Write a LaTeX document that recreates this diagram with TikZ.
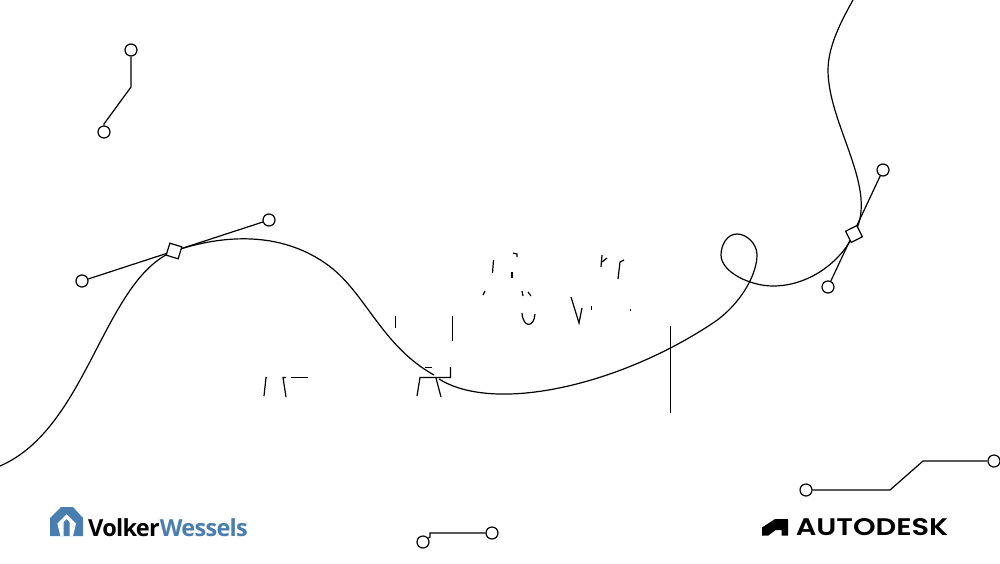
\documentclass[tikz,border=0pt]{standalone}
\usepackage{fontspec}
\setsansfont{Open Sans}
\newfontfamily\autofont{Poppins SemiBold}
\definecolor{vwblue}{HTML}{4A7DB0}
\begin{document}
\begin{tikzpicture}[
    x = 1pt,
    y = -1pt,
    line width = 1.2pt,
    handle/.style = {draw,
      circle,
      fill = white,
      inner sep = 0pt,
      minimum size = 12pt},
    anchorbox/.style = {draw,
      fill = white,
      inner sep = 0pt,
      minimum size = 12.5pt},
    fragment/.style = {line width = 1.2pt},
    ]

    \useasboundingbox (0, 0) rectangle (1000, 563);

    \coordinate (curve_start) at (0, 466);
    \coordinate (curve_end) at (853, 0);

    \node at (131, 50) [handle, name = h_top_a] {};
    \node at (104, 132) [handle, name = h_top_b] {};
    \draw (h_top_a) -- (131, 87) -- (104, 124) -- (h_top_b);

    \node at (423, 542) [handle, name = h_bot_a] {};
    \node at (492, 533) [handle, name = h_bot_b] {};
    \draw (h_bot_a) -- (430, 537) -- (430, 533) -- (h_bot_b);

    \node at (806, 490) [handle, name = h_right_a] {};
    \node at (994, 461) [handle, name = h_right_b] {};
    \draw (h_right_a) -- (890, 490) -- (923, 461) -- (h_right_b);

    \node at (82, 281) [handle, name = h_left_a] {};
    \node at (269, 220) [handle, name = h_left_b] {};
    \draw (h_left_a) -- (h_left_b);

    \node at (828, 287) [handle, name = h_loop_a] {};
    \node at (883, 170) [handle, name = h_loop_b] {};
    \draw (h_loop_a) -- (h_loop_b);

    \draw (curve_start) .. controls (88, 428) and (103, 280) .. (174, 251)
    .. controls (225, 234) and (280, 232) .. (325, 263)
    .. controls (365, 290) and (380, 345) .. (434, 375);
    \draw (439, 379) .. controls (495, 414) and (620, 385) .. (713, 323)
    .. controls (740, 305) and (757, 275) .. (757, 255)
    .. controls (757, 243) and (746, 234) .. (737, 234)
    .. controls (727, 234) and (721, 245) .. (721, 255)
    .. controls (721, 272) and (750, 286) .. (773, 286)
    .. controls (808, 286) and (840, 263) .. (854, 234)
    .. controls (880, 190) and (828, 125) .. (828, 70)
    .. controls (828, 45) and (843, 18) .. (curve_end);

    \node at (174, 251) [anchorbox, rotate = -17, name = a_left] {};
    \node at (854, 234) [anchorbox, rotate = 27, name = a_loop] {};

    \draw [fragment] (493.5, 260) -- (492.5, 273);
    \draw [fragment] (513, 253) -- (517, 254) -- (517, 257);
    \draw [fragment] (512, 272) -- (512, 278);
    \draw [fragment] (485, 291) -- (483, 295);
    \draw [fragment] (522, 291) -- (523, 296);
    \draw [fragment] (528, 292) -- (531, 296);
    \draw [fragment] (522, 313) .. controls (523, 328) and (534, 328) .. (535, 314);
    \draw [fragment] (571, 297) -- (579, 323) -- (582, 308);
    \draw [fragment] (591.5, 306) -- (591.5, 310);
    \draw [fragment] (630.5, 309) -- (630.5, 311);
    \draw [fragment] (602, 255) -- (601, 267);
    \draw [fragment] (602, 262) -- (607, 258);
    \draw [fragment] (624, 260) -- (620, 262) -- (618, 279);
    \draw [fragment] (267, 377.5) -- (266, 377.5) -- (264, 396);
    \draw [fragment] (286, 377.5) -- (283, 377.5) -- (286, 397);
    \draw [fragment] (291, 377.5) -- (308, 377.5);
    \draw [fragment] (395.5, 316) -- (395.5, 328);
    \draw [fragment] (452.5, 316) -- (452.5, 341);
    \draw [fragment] (425, 367.5) -- (432, 367.5);
    \draw [fragment] (450.5, 367) -- (450.5, 377.5) -- (420, 377.5) -- (417, 396);
    \draw [fragment] (436, 378) -- (441, 397);
    \draw [fragment] (670.5, 326) -- (670.5, 413);

    \fill [vwblue] (50, 518) -- (61, 507) -- (73, 507) -- (83, 518)
    -- (83, 536) -- (50, 536) -- cycle;
    \fill [white] (66.7, 514.3) -- (76, 523.5) -- (73, 536) -- (69.7, 536)
    -- (69.7, 522) -- (66.7, 519) -- (63.7, 522) -- (63.7, 536) -- (60.4, 536)
    -- (57.4, 523.5) -- cycle;
    \node at (168, 528) [font = \sffamily\bfseries\fontsize{23.5}{23.5}\selectfont,
      inner sep = 0pt, name = vw_logo]
    {\addfontfeature{LetterSpace=-3}Volker\textcolor{vwblue}{Wessels}};

    \fill (762, 527.5) -- (775, 519) -- (788, 519) -- (788, 535.7)
    -- (781.7, 535.7) -- (781.7, 530) -- (775.7, 530) -- (768, 535.7)
    -- (762, 535.7) -- cycle;
    \node at (872, 527) [font = \autofont\fontsize{24}{24}\selectfont,
      xscale = 1.2, transform shape,
      inner sep = 0pt, name = autodesk_logo] {AUTODESK};

  \end{tikzpicture}
\end{document}
